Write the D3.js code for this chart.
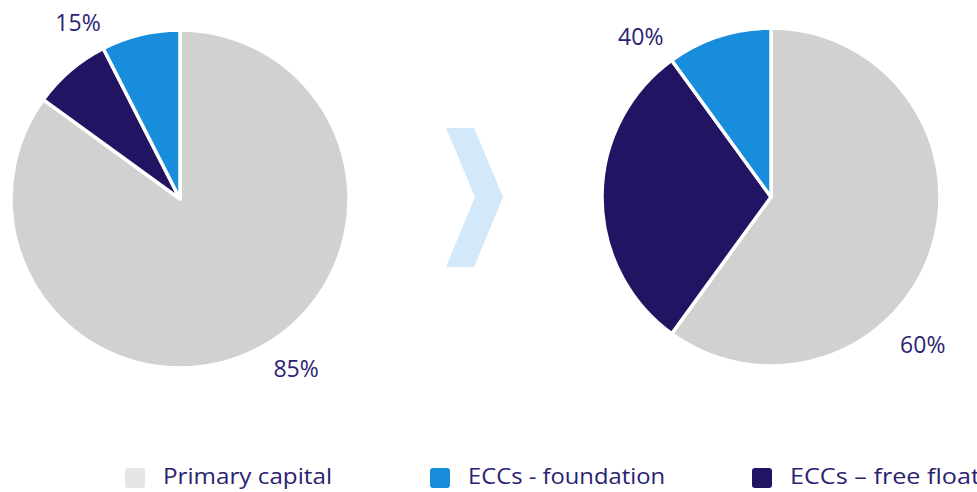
<!DOCTYPE html>
<html><head><meta charset="utf-8">
<script src="https://cdn.jsdelivr.net/npm/d3@7"></script>
<style>html,body{margin:0;padding:0;background:#fff;}svg{display:block;}</style>
</head><body>
<svg id="chart" width="977" height="492"></svg>
<script>
const categories = ["Primary capital", "ECCs – free float", "ECCs - foundation"];
const beforeValues = [85, 7.5, 7.5];
const afterValues = [60, 30, 10];
const beforeLabels = ["85%", "15%"];
const afterLabels = ["60%", "40%"];
const legendOrder = ["Primary capital", "ECCs - foundation", "ECCs – free float"];

const colors = {
  "Primary capital": "#d0d2d1",
  "ECCs - foundation": "#188ddb",
  "ECCs – free float": "#221463"
};
const legendColors = {
  "Primary capital": "#e6e6e6",
  "ECCs - foundation": "#188ddb",
  "ECCs – free float": "#221463"
};
const textColor = "#2b2372";

const svg = d3.select("#chart");
const R = 169;
const pie = d3.pie().sort(null).value(d => d.v);
const arc = d3.arc().innerRadius(0).outerRadius(R);

function drawPie(cx, cy, values, labels, labelPos) {
  const g = svg.append("g").attr("transform", `translate(${cx},${cy})`);
  const data = categories.map((c, i) => ({c, v: values[i]}));
  g.selectAll("path").data(pie(data)).join("path")
    .attr("d", arc)
    .attr("fill", d => colors[d.data.c])
    .attr("stroke", "#fff")
    .attr("stroke-width", 3.5)
    .attr("stroke-linejoin", "round");
  labels.forEach((t, i) => {
    const p = labelPos[i];
    const a = p.ang * Math.PI / 180;
    g.append("text")
      .attr("x", Math.sin(a) * p.r)
      .attr("y", -Math.cos(a) * p.r)
      .attr("text-anchor", "middle")
      .attr("dominant-baseline", "central")
      .attr("font-family", "'Open Sans', sans-serif")
      .attr("font-size", 23)
      .attr("fill", textColor)
      .text(t);
  });
}

drawPie(180, 199, beforeValues, beforeLabels, [{ang: 145.5, r: 205}, {ang: -30, r: 204}]);
drawPie(771, 197, afterValues, afterLabels, [{ang: 134, r: 211}, {ang: -39, r: 207}]);

// chevron
svg.append("path")
  .attr("d", "M446,128 L474,128 L503,197 L474,267 L446,267 L475,197 Z")
  .attr("fill", "#d3e8f8");

// legend
const legendX = [125, 430, 752];
const legendW = [169, 197, 190];
const lg = svg.append("g");
legendOrder.forEach((c, i) => {
  lg.append("rect")
    .attr("x", legendX[i]).attr("y", 468)
    .attr("width", 20).attr("height", 20)
    .attr("rx", 3)
    .attr("fill", legendColors[c]);
  lg.append("text")
    .attr("x", legendX[i] + 38).attr("y", 484)
    .attr("font-family", "'Open Sans', sans-serif")
    .attr("font-size", 22)
    .attr("fill", textColor)
    .attr("textLength", legendW[i])
    .attr("lengthAdjust", "spacingAndGlyphs")
    .text(c);
});
</script>
</body></html>
